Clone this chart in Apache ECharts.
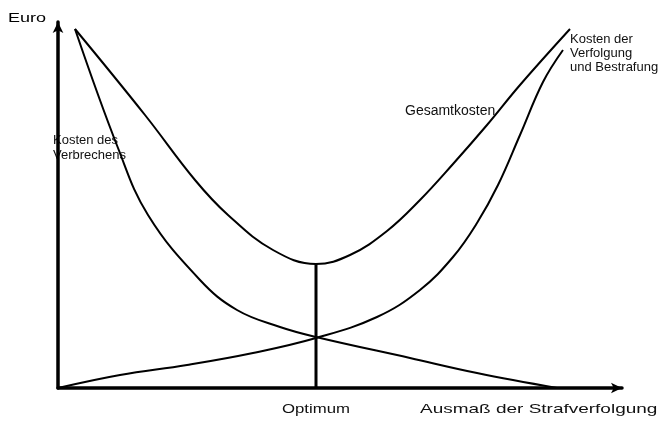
<!DOCTYPE html>
<html>
<head>
<meta charset="utf-8">
<script src="https://cdn.jsdelivr.net/npm/echarts@6/dist/echarts.min.js"></script>
<style>html,body{margin:0;padding:0;background:#fff;}#c{width:664px;height:425px;}</style>
</head>
<body>
<div id="c"></div>
<script>
// Values (arbitrary units: x = extent of prosecution, y = Euro)
var verbrechen = [[17,359],[60,240],[90,173],[142,108],[179,78],[222,61],[258,51],[352,30],[419,15],[499,0]];
var verfolgung = [[0,0],[62,13],[129,23],[195,35],[258,50],[319,71],[362,98],[395,131],[419,165],[440,203],[462,253],[485,306],[505,338]];
var gesamt = [[17,359],[87,273],[137,208],[170,173],[215,138],[258,124],[292,133],[329,157],[362,188],[395,224],[429,263],[462,303],[512,359]];
var optimumX = 258;
var optimumY = 124;
var xMax = 564, yMax = 366;

var chart = echarts.init(document.getElementById('c'));
var lineStyle = {color:'#000', width:2};
var font = 'Liberation Sans, Arial, sans-serif';
chart.setOption({
  animation:false,
  grid:{left:58, right:42, top:22, bottom:37},
  xAxis:{type:'value', min:0, max:xMax, splitLine:{show:false}, axisTick:{show:false}, axisLabel:{show:false},
    axisLine:{lineStyle:{color:'#000', width:3.5}, symbol:['none','arrow'], symbolSize:[8,11]}},
  yAxis:{type:'value', min:0, max:yMax, splitLine:{show:false}, axisTick:{show:false}, axisLabel:{show:false},
    axisLine:{lineStyle:{color:'#000', width:3.5}, symbol:['none','arrow'], symbolSize:[8,11]}},
  series:[
    {name:'Kosten des Verbrechens', type:'line', data:verbrechen, smooth:0.4, symbol:'none', lineStyle:lineStyle},
    {name:'Kosten der Verfolgung und Bestrafung', type:'line', data:verfolgung, smooth:0.4, symbol:'none', lineStyle:lineStyle},
    {name:'Gesamtkosten', type:'line', data:gesamt, smooth:0.4, symbol:'none', lineStyle:lineStyle},
    {name:'Optimum', type:'line', data:[[optimumX,0],[optimumX,optimumY]], symbol:'none', lineStyle:{color:'#000', width:3}}
  ],
  graphic:[
    {type:'text', x:8, y:19, scaleX:1.5, style:{text:'Euro', font:'12px '+font, fill:'#000', textVerticalAlign:'middle'}},
    {type:'text', x:53, y:148, style:{text:'Kosten des\nVerbrechens', font:'13px '+font, fill:'#111', lineHeight:15, textVerticalAlign:'middle'}},
    {type:'text', x:405, y:111, style:{text:'Gesamtkosten', font:'14px '+font, fill:'#111', textVerticalAlign:'middle'}},
    {type:'text', x:570, y:53, style:{text:'Kosten der\nVerfolgung\nund Bestrafung', font:'13px '+font, fill:'#111', lineHeight:14, textVerticalAlign:'middle'}},
    {type:'text', x:282, y:409, scaleX:1.29, style:{text:'Optimum', font:'13px '+font, fill:'#111', textVerticalAlign:'middle'}},
    {type:'text', x:420, y:409, scaleX:1.46, style:{text:'Ausmaß der Strafverfolgung', font:'13px '+font, fill:'#111', textVerticalAlign:'middle'}}
  ]
});
</script>
</body>
</html>
